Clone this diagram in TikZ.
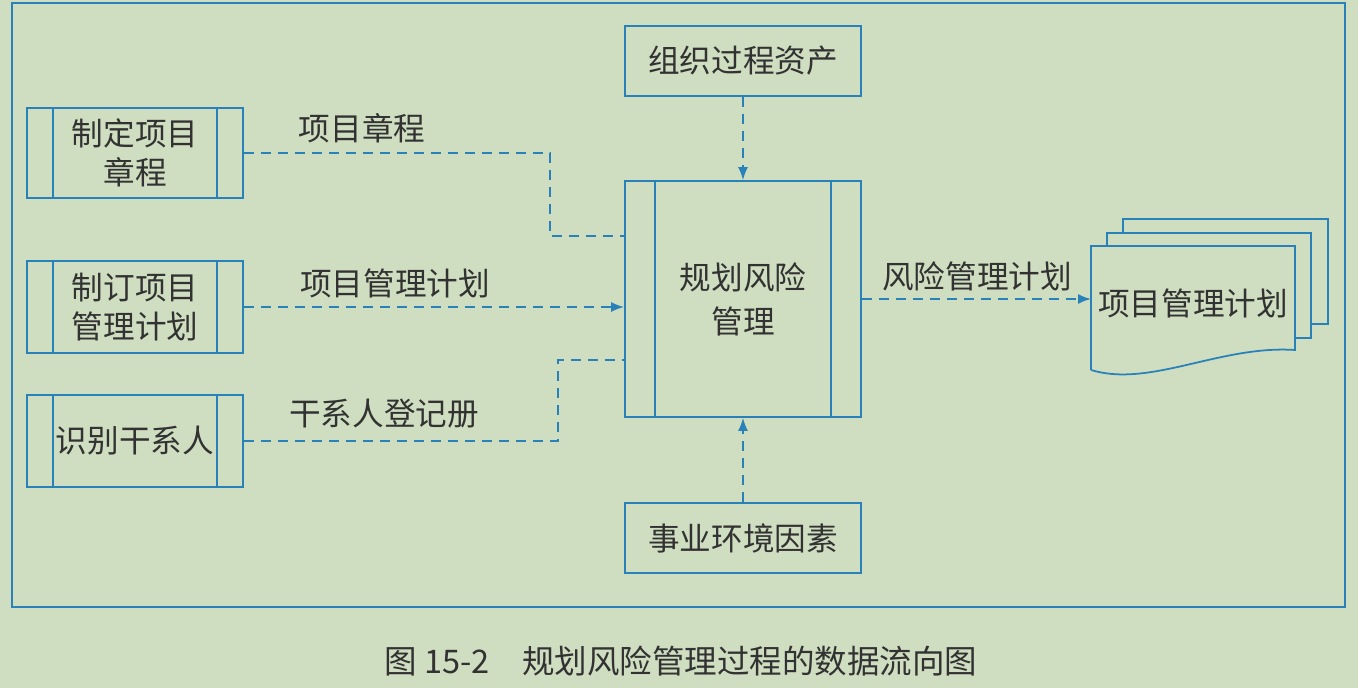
\documentclass[tikz,border=0pt]{standalone}
\usepackage{fontspec}
\setmainfont{Noto Sans CJK SC}
\definecolor{pmbg}{RGB}{207,221,192}
\definecolor{pmblue}{RGB}{40,130,185}
\definecolor{pmtext}{RGB}{50,50,50}
\usetikzlibrary{arrows.meta,positioning,calc}

\begin{document}
\begin{tikzpicture}[x=0.02cm, y=-0.02cm,
    proc/.style={rectangle, draw=pmblue, line width=1pt, text=pmtext, align=center,
                 font=\fontsize{18}{22}\selectfont, inner sep=0pt,
                 path picture={\draw[pmblue, line width=1pt]
                   ([xshift=#1]path picture bounding box.north west) -- ([xshift=#1]path picture bounding box.south west)
                   ([xshift=-#1]path picture bounding box.north east) -- ([xshift=-#1]path picture bounding box.south east);}},
    srcbox/.style={rectangle, draw=pmblue, line width=1pt, text=pmtext,
                   font=\fontsize{18}{22}\selectfont, minimum width=4.72cm, minimum height=1.4cm},
    flow/.style={pmblue, line width=1pt, dash pattern=on 0.2cm off 0.14cm},
    label/.style={text=pmtext, font=\fontsize{18}{22}\selectfont},
    >={Latex[length=0.26cm,width=0.2cm]}
  ]
    % Background and frame
    \fill[pmbg] (0,0) rectangle (1358,688);
    \useasboundingbox (0,0) rectangle (1358,688);
    \draw[pmblue, line width=1pt] (12,3) rectangle (1345,607);

    % Inputs
    \node[proc=0.52cm, minimum width=4.32cm, minimum height=1.8cm] (charter) at (135,153) {制定项目\\章程};
    \node[proc=0.52cm, minimum width=4.32cm, minimum height=1.84cm] (pmplan) at (135,307) {制订项目\\管理计划};
    \node[proc=0.52cm, minimum width=4.32cm, minimum height=1.84cm] (stake) at (135,441) {识别干系人};

    % Process
    \node[proc=0.6cm, minimum width=4.72cm, minimum height=4.72cm,
          font=\fontsize{18}{25}\selectfont] (risk) at (743,299) {规划风险\\管理};
    \node[srcbox] (opa) at (743,61) {组织过程资产};
    \node[srcbox] (eef) at (743,538) {事业环境因素};

    % Output document stack
    \draw[pmblue, line width=1pt] (1123,233) -- (1123,219) -- (1328,219) -- (1328,324) -- (1311,324);
    \draw[pmblue, line width=1pt] (1107,246) -- (1107,233) -- (1311,233) -- (1311,338) -- (1295,338);
    \draw[pmblue, line width=1pt] (1091,370) -- (1091,246) -- (1295,246) -- (1295,350)
      .. controls (1220,345) and (1150,388) .. (1091,370);
    \node[label] (outplan) at (1193,303) {项目管理计划};
    \coordinate (docin) at (1091,299);

    % Flows
    \coordinate (j1) at (550,236);
    \coordinate (j3) at (558,360);
    \draw[flow] (charter.east) -| (j1) -- (j1 -| risk.west);
    \draw[flow, ->] (pmplan.east) -- (pmplan.east -| risk.west);
    \draw[flow] (stake.east) -| (j3) -- (j3 -| risk.west);
    \draw[flow, ->] (opa.south) -- (risk.north);
    \draw[flow, ->] (eef.north) -- (risk.south);
    \draw[flow, ->] (risk.east) -- (docin);

    % Flow labels
    \node[label] (l1) at (362,128) {项目章程};
    \node[label] (l2) at (395,283) {项目管理计划};
    \node[label] (l3) at (384,414) {干系人登记册};
    \node[label] (l4) at (977,276) {风险管理计划};

    % Caption
    \node[text=pmtext, font=\fontsize{18.5}{22}\selectfont] (caption) at (681,661)
      {图 15-2\quad 规划风险管理过程的数据流向图};
  \end{tikzpicture}
\end{document}
